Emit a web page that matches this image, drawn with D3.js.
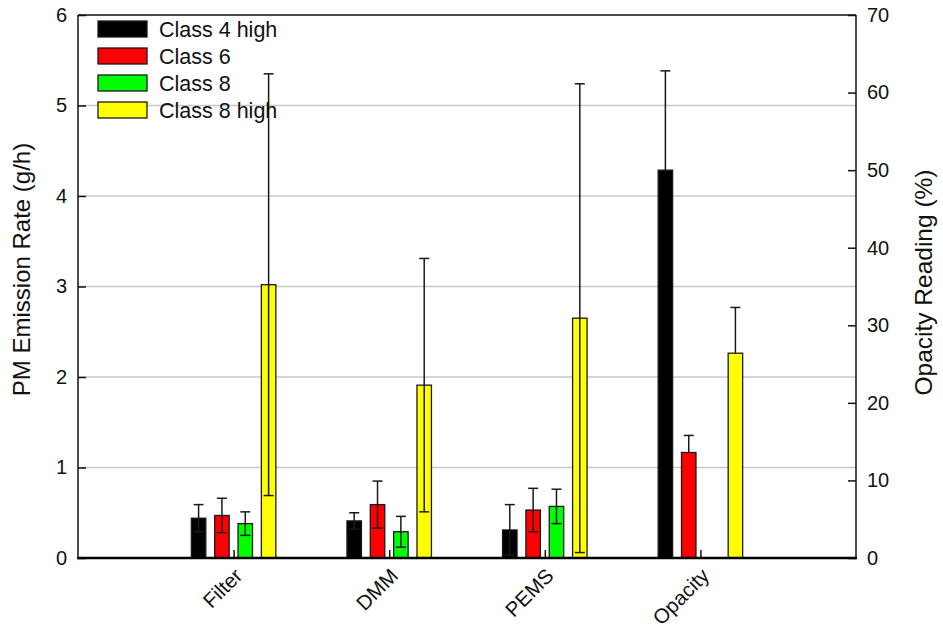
<!DOCTYPE html>
<html>
<head>
<meta charset="utf-8">
<script src="https://cdn.jsdelivr.net/npm/d3@7"></script>
<style>
  html, body { margin: 0; padding: 0; background: #fff; }
  svg { display: block; font-family: "Liberation Sans", Arial, sans-serif; }
</style>
</head>
<body>
<svg id="chart" width="943" height="627"></svg>
<script>
// ---- data ----
const categories = ["Filter", "DMM", "PEMS", "Opacity"];
const seriesNames = ["Class 4 high", "Class 6", "Class 8", "Class 8 high"];
const seriesColors = ["#000000", "#ff0000", "#00ff00", "#ffff00"];
// Filter, DMM, PEMS in g/h (left axis); Opacity in % (right axis)
const class4High     = [0.44, 0.41, 0.31, 50.0];
const class4HighErr  = [0.15, 0.09, 0.28, 12.8];
const class6         = [0.47, 0.59, 0.53, 13.6];
const class6Err      = [0.19, 0.26, 0.24, 2.2];
const class8         = [0.38, 0.29, 0.57, null];
const class8Err      = [0.13, 0.17, 0.19, null];
const class8High     = [3.02, 1.91, 2.65, 26.4];
const class8HighErr  = [2.33, 1.40, 2.59, 5.9];
const rightAxisCategory = [false, false, false, true];   // plotted against right axis
const lowerErrorShown   = [true, true, true, false];
const leftTicks  = [0, 1, 2, 3, 4, 5, 6];
const rightTicks = [0, 10, 20, 30, 40, 50, 60, 70];

const seriesValues = [class4High, class6, class8, class8High];
const seriesErrors = [class4HighErr, class6Err, class8Err, class8HighErr];

// ---- layout ----
const L = 78, R = 856, T = 15, B = 558;
const svg = d3.select("#chart");

const x = d3.scaleLinear().domain([0, 5]).range([L, R]);
const yL = d3.scaleLinear().domain([0, 6]).range([B, T]);
const yR = d3.scaleLinear().domain([0, 70]).range([B, T]);
const inner = d3.scaleBand().domain(seriesNames).range([x(-0.3) - x(0), x(0.3) - x(0)]).paddingInner(0.38).paddingOuter(0.19);

// gridlines
svg.append("g").selectAll("line").data(leftTicks.filter(d => d > 0 && d < 6)).join("line")
  .attr("x1", L).attr("x2", R).attr("y1", d => yL(d)).attr("y2", d => yL(d))
  .attr("stroke", "#c8c8c8").attr("stroke-width", 1.5);

// bars
const barData = [];
categories.forEach((c, i) => {
  seriesNames.forEach((s, j) => {
    const v = seriesValues[j][i];
    if (v == null) return;
    barData.push({ cat: c, ci: i, series: s, sj: j, v, e: seriesErrors[j][i],
                   y: rightAxisCategory[i] ? yR : yL, lower: lowerErrorShown[i] });
  });
});
const bw = inner.bandwidth();
const bars = svg.append("g");
bars.selectAll("rect").data(barData).join("rect")
  .attr("x", d => x(d.ci + 1) + inner(d.series))
  .attr("width", bw)
  .attr("y", d => d.y(d.v))
  .attr("height", d => B - d.y(d.v))
  .attr("fill", d => seriesColors[d.sj])
  .attr("stroke", "#1a1a1a").attr("stroke-width", 1.3);

// error bars
const eg = svg.append("g").attr("stroke", "#1a1a1a").attr("stroke-width", 1.5).attr("fill", "none");
const cx = d => x(d.ci + 1) + inner(d.series) + bw / 2;
eg.selectAll("line.v").data(barData).join("line").attr("class", "v")
  .attr("x1", cx).attr("x2", cx)
  .attr("y1", d => d.y(d.v + d.e))
  .attr("y2", d => d.lower ? d.y(d.v - d.e) : d.y(d.v));
eg.selectAll("line.top").data(barData).join("line").attr("class", "top")
  .attr("x1", d => cx(d) - 5).attr("x2", d => cx(d) + 5)
  .attr("y1", d => d.y(d.v + d.e)).attr("y2", d => d.y(d.v + d.e));
eg.selectAll("line.bot").data(barData.filter(d => d.lower)).join("line").attr("class", "bot")
  .attr("x1", d => cx(d) - 5).attr("x2", d => cx(d) + 5)
  .attr("y1", d => d.y(d.v - d.e)).attr("y2", d => d.y(d.v - d.e));

// frame
svg.append("line").attr("x1", L).attr("x2", R).attr("y1", T).attr("y2", T).attr("stroke", "#111").attr("stroke-width", 1.5);
svg.append("line").attr("x1", L).attr("x2", L).attr("y1", T).attr("y2", B).attr("stroke", "#111").attr("stroke-width", 1.5);
svg.append("line").attr("x1", R).attr("x2", R).attr("y1", T).attr("y2", B).attr("stroke", "#111").attr("stroke-width", 1.5);

// left axis
const axL = d3.axisLeft(yL).tickValues(leftTicks).tickSize(-8).tickPadding(11).tickFormat(d3.format("d"));
svg.append("g").attr("transform", `translate(${L},0)`).call(axL)
  .call(g => g.select(".domain").remove())
  .call(g => g.selectAll(".tick line").attr("stroke", "#111").attr("stroke-width", 1.5))
  .call(g => g.selectAll("text").attr("font-size", 20).attr("fill", "#111").attr("font-family", "Liberation Sans, Arial, sans-serif"));

// right axis
const axR = d3.axisRight(yR).tickValues(rightTicks).tickSize(-8).tickPadding(11).tickFormat(d3.format("d"));
svg.append("g").attr("transform", `translate(${R},0)`).call(axR)
  .call(g => g.select(".domain").remove())
  .call(g => g.selectAll(".tick line").attr("stroke", "#111").attr("stroke-width", 1.5))
  .call(g => g.selectAll("text").attr("font-size", 20).attr("fill", "#111").attr("font-family", "Liberation Sans, Arial, sans-serif"));

// bottom axis
const axB = d3.axisBottom(x).tickValues(categories.map((c, i) => i + 1)).tickSize(-8).tickFormat("");
svg.append("g").attr("transform", `translate(0,${B})`).call(axB)
  .call(g => g.select(".domain").remove())
  .call(g => g.selectAll(".tick line").attr("stroke", "#111").attr("stroke-width", 1.5));
svg.append("line").attr("x1", L - 1).attr("x2", R + 1).attr("y1", B).attr("y2", B).attr("stroke", "#000").attr("stroke-width", 2.5);

svg.append("g").selectAll("text").data(categories).join("text")
  .attr("transform", (d, i) => `translate(${x(i + 1) + 5},572) rotate(-45)`)
  .attr("text-anchor", "end").attr("dy", "0.35em")
  .attr("font-size", 20.5).attr("fill", "#111")
  .text(d => d);

// axis titles
svg.append("text").attr("transform", `translate(30,${(T + B) / 2 - 17}) rotate(-90)`)
  .attr("text-anchor", "middle").attr("font-size", 24).attr("fill", "#111")
  .text("PM Emission Rate (g/h)");
svg.append("text").attr("transform", `translate(932,${(T + B) / 2 - 4}) rotate(-90)`)
  .attr("text-anchor", "middle").attr("font-size", 24.5).attr("fill", "#111")
  .text("Opacity Reading (%)");

// legend
const lg = svg.append("g").selectAll("g").data(seriesNames).join("g")
  .attr("transform", (d, i) => `translate(98,${21 + i * 27})`);
lg.append("rect").attr("width", 49).attr("height", 16)
  .attr("fill", (d, i) => seriesColors[i]).attr("stroke", "#1a1a1a").attr("stroke-width", 1.3);
lg.append("text").attr("x", 61).attr("y", 8).attr("dy", "0.36em")
  .attr("font-size", 21.5).attr("fill", "#111").text(d => d);
</script>
</body>
</html>
